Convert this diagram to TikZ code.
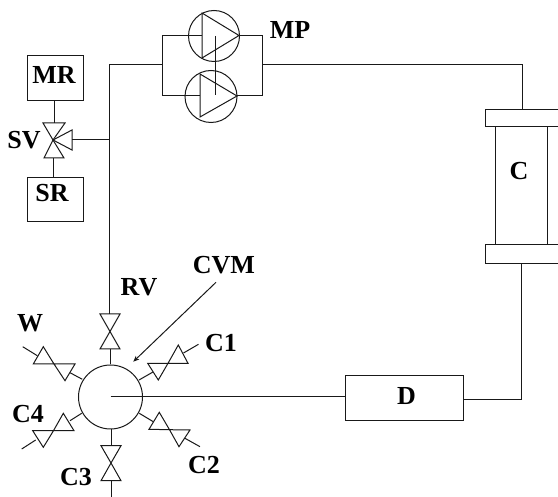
\documentclass[tikz,border=0pt]{standalone}
\usepackage{fontspec}
\setmainfont{Liberation Serif}
\usetikzlibrary{arrows.meta}
\tikzset{
  pipe/.style={draw=black!90,line width=1pt},
  lab/.style={font=\bfseries\fontsize{26}{26}\selectfont,inner sep=0pt,text=black},
  boxn/.style={pipe,rectangle,inner sep=0pt,fill=white},
  round/.style={pipe,circle,inner sep=0pt,fill=white},
  joint/.style={pipe,line join=miter}
}
\begin{document}
\begin{tikzpicture}[x=1pt,y=-1pt]
\useasboundingbox (0,0) rectangle (558,497);
% nodes
\node[boxn,minimum width=56pt,minimum height=45pt] (mrbox) at (55,78.5) {};
\node[boxn,minimum width=56pt,minimum height=44pt] (srbox) at (55,200) {};
\node[boxn,minimum width=118pt,minimum height=45pt] (dbox) at (404,398.5) {};
\node[round,minimum size=64pt] (cvm) at (110.5,397) {};
\coordinate (cvmc) at (110.5,396.5);
\node[round,minimum size=51pt,fill=none] (p1) at (214,36) {};
\node[round,minimum size=52pt,fill=none] (p2) at (211,96.5) {};
% column
\draw[pipe] (495,127) -- (495,245) (547,127) -- (547,245);
\draw[pipe] (558,110) -- (485,110) -- (485,127) -- (558,127);
\draw[pipe] (558,245) -- (485,245) -- (485,264) -- (558,264);
\coordinate (ftop) at (522,110);
\coordinate (fbot) at (521.5,264);
% pipes
\coordinate (mainT) at (109.5,65);
\coordinate (mainJ) at (109.5,140);
\coordinate (rvT) at (109.5,314);
\coordinate (bl) at (162,65);
\coordinate (br) at (262,65);
\draw[joint] (bl) -- (mainT) -- (rvT);
\draw[joint] (br) -- (522,65) -- (ftop);
\draw[joint] (dbox.east |- 0,400) -- (521.5,400) -- (fbot);
\draw[pipe] (cvmc) -- (dbox.west |- cvmc);
% pump loop
\draw[joint] (202,35.5) -- (162,35.5) -- (162,95.5) -- (200,95.5);
\draw[joint] (239,35.5) -- (262,35.5) -- (262,95.5) -- (237,95.5);
\draw[joint] (202,13) -- (239,35.5) -- (202,58) -- cycle;
\draw[joint] (200,74) -- (237,96) -- (200,117) -- cycle;
\draw[pipe] (215,36) -- (215,95);
% selection valve
\coordinate (sv) at (53,140);
\draw[joint] (43,123) -- (65,123) -- (sv) -- cycle;
\draw[joint] (44,158) -- (64,158) -- (sv) -- cycle;
\draw[joint] (72,130) -- (72,150) -- (sv) -- cycle;
\draw[pipe] (mrbox.south -| 54,0) -- (54,123);
\draw[pipe] (53,158) -- (srbox.north -| 53,0);
\draw[pipe] (72,140) -- (mainJ);
% RV
\coordinate (rv) at (110,331.5);
\draw[joint] (100,314) -- (120,314) -- (rv) -- cycle;
\draw[joint] (100,349) -- (120,349) -- (rv) -- cycle;
\draw[pipe] (110,349) -- (cvm.north -| 110,0);
% C3
\coordinate (c3v) at (111,463);
\draw[joint] (101,445.7) -- (121,445.7) -- (c3v) -- cycle;
\draw[joint] (101,480.7) -- (121,480.7) -- (c3v) -- cycle;
\draw[pipe] (111,429) -- (111,445.7);
\draw[pipe] (111,480.7) -- (111,497);
% C1
\coordinate (c1v) at (168,363.3);
\draw[joint] (147.7,363.3) -- (158.3,380) -- (c1v) -- cycle;
\draw[joint] (188,363.3) -- (178.3,345) -- (c1v) -- cycle;
\draw[pipe] (139,380) -- (153,372);
\draw[pipe] (183.5,353) -- (198.5,344.3);
% C2
\coordinate (c2v) at (169.5,429.7);
\draw[joint] (149,429.3) -- (159.3,412.3) -- (c2v) -- cycle;
\draw[joint] (190,430) -- (179,446.7) -- (c2v) -- cycle;
\draw[pipe] (139.3,413.3) -- (153.3,421.7);
\draw[pipe] (185,438.3) -- (200,446.7);
% C4
\coordinate (c4v) at (53.5,430.7);
\draw[joint] (74,430.7) -- (63.3,413.3) -- (c4v) -- cycle;
\draw[joint] (32.7,430.7) -- (43.3,447.3) -- (c4v) -- cycle;
\draw[pipe] (81.7,413.3) -- (70,420.7);
\draw[pipe] (35.7,440) -- (21.7,449);
% W
\coordinate (wv) at (54,364);
\draw[joint] (33.3,364) -- (43.3,346.7) -- (wv) -- cycle;
\draw[joint] (75,364) -- (65,380.7) -- (wv) -- cycle;
\draw[pipe] (82.3,379.3) -- (70,372.7);
\draw[pipe] (37.3,355.7) -- (22.7,346.7);
% CVM arrow
\coordinate (arrS) at (216,282.3);
\coordinate (arrE) at (133.3,361.7);
\draw[pipe,-{Stealth[length=6pt,width=5pt]}] (arrS) -- (arrE);
% labels
\node[lab] (lmr) at (54,75) {MR};
\node[lab] (lsr) at (52,193) {SR};
\node[lab] (lsv) at (24,140) {SV};
\node[lab] (lmp) at (290,30) {MP};
\node[lab] (lc) at (519,171) {C};
\node[lab] (ld) at (406.5,396) {D};
\node[lab] (lrv) at (139,287) {RV};
\node[lab] (lcvm) at (224,265) {CVM};
\node[lab] (lw) at (30,323) {W};
\node[lab] (lc1) at (221,343) {C1};
\node[lab] (lc2) at (204,465) {C2};
\node[lab] (lc3) at (76,477) {C3};
\node[lab] (lc4) at (28,414) {C4};
\end{tikzpicture}
\end{document}
